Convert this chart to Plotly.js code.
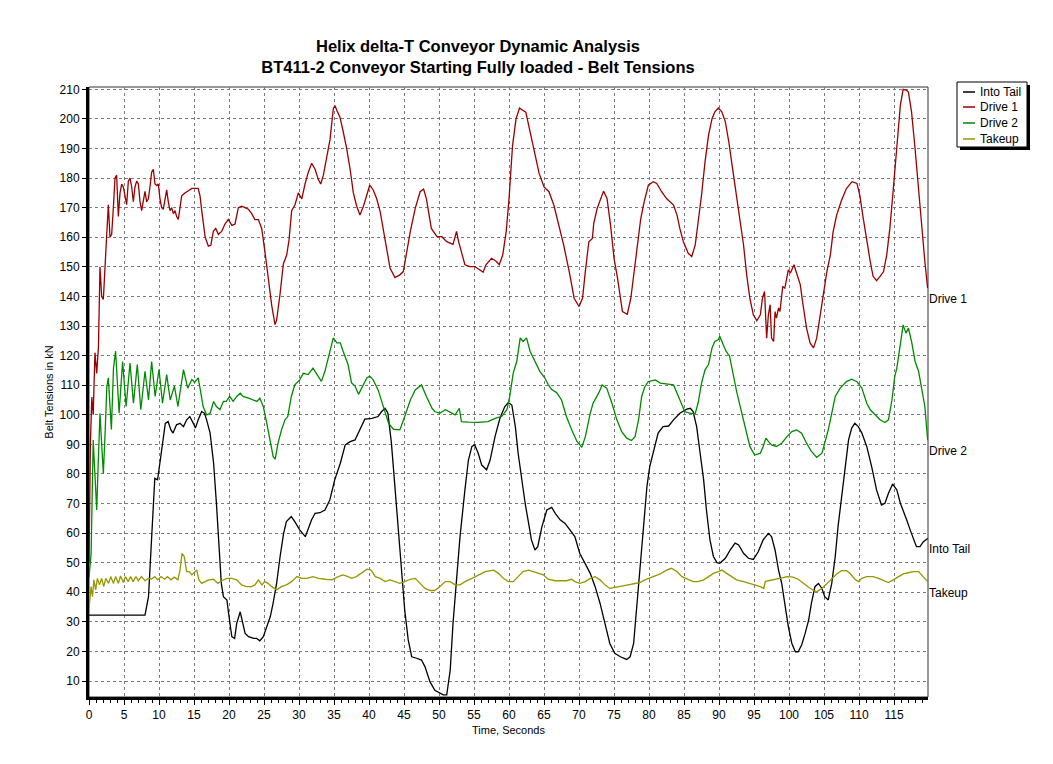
<!DOCTYPE html>
<html>
<head>
<meta charset="utf-8">
<script src="https://cdn.plot.ly/plotly-3.0.1.min.js"></script>
<style>html,body{margin:0;padding:0;background:#fff;}#chart{width:1053px;height:764px;}</style>
</head>
<body>
<div id="chart"></div>
<script>
// ---- Data ----
const seriesNames = ["Into Tail", "Drive 1", "Drive 2", "Takeup"];
const xTickVals = [0,5,10,15,20,25,30,35,40,45,50,55,60,65,70,75,80,85,90,95,100,105,110,115];
const yTickVals = [10,20,30,40,50,60,70,80,90,100,110,120,130,140,150,160,170,180,190,200,210];

const tailT = [0,8.0,8.5,8.7,8.95,9.2,9.4,9.8,10.1,10.5,10.9,11.3,11.7,12.0,12.5,13.0,13.5,13.95,14.4,14.9,15.2,15.6,16.1,16.5,16.8,17.3,17.8,18.2,18.6,18.9,19.2,19.7,20.0,20.4,20.8,21.1,21.6,21.9,22.3,22.8,23.5,23.95,24.4,24.9,25.4,25.9,26.3,26.8,27.3,27.8,28.2,28.9,29.4,30.1,30.9,31.3,31.8,32.3,33.0,33.7,34.4,35.1,35.9,36.6,37.3,38.0,38.7,39.4,40.4,41.3,41.8,42.3,42.7,43.2,43.7,44.2,44.7,45.1,45.6,46.1,46.8,47.5,48.0,48.7,49.4,50.1,50.6,51.1,51.6,52.0,52.5,53.0,53.7,54.2,54.7,55.1,55.6,56.1,56.8,57.3,58.0,58.7,59.4,59.9,60.4,60.9,61.3,61.8,62.3,62.8,63.2,63.7,64.1,64.7,65.4,66.1,66.6,67.3,68.0,68.7,69.4,70.1,70.9,71.6,72.3,73.0,73.7,74.4,75.1,75.9,76.8,77.3,77.8,78.2,78.7,79.2,79.7,80.1,80.6,81.3,82.0,82.8,83.5,84.4,85.4,85.9,86.3,86.8,87.3,87.8,88.2,88.7,89.2,89.7,90.1,90.9,91.6,92.3,92.8,93.5,94.2,94.9,95.6,96.3,97.05,97.5,98.0,98.5,98.95,99.4,99.9,100.4,100.9,101.3,101.8,102.3,102.8,103.2,103.7,104.2,104.7,105.1,105.6,106.1,106.6,107.0,107.5,108.0,108.5,108.95,109.4,109.9,110.4,111.1,111.8,112.5,113.2,113.7,114.2,114.8,115.4,115.9,116.3,116.8,117.3,117.8,118.2,118.7,119.2,119.8];
const tailV = [32.3,32.3,38.5,47.5,61,73.5,78.5,78,83.6,91.5,97.1,97.7,94.9,93.8,96.6,97.1,96,98.3,99.4,97.1,95.5,98.3,101.1,100.5,98.3,93.8,83.6,70.1,56.6,43,38.5,37.4,31.8,25,24.4,29.5,33.4,30.6,26.1,25,24.4,24.4,23.6,25,28.4,31.8,36.3,43,52.1,59.9,63.9,65.6,63.9,61.1,58.8,61.1,64.5,66.7,66.9,67.8,71.2,78,83.6,89.8,90.9,91.5,94.9,98.5,98.8,99.4,101.1,102.2,100.5,90.4,75.7,61.1,47.5,34,23.9,18.2,17.7,17.1,14.8,9.8,6.9,6.1,5.3,5.3,13.7,29.5,45.3,58.8,74.6,84.7,89.3,89.8,87,83,81.4,84.7,92.6,98.8,102.8,104.1,103.3,96,87,78,70.1,63.3,57.7,54.3,55.4,62.2,67.8,68.7,66.7,64.5,63.3,61.1,58.8,53.2,49.8,46.4,41.9,36.3,29.5,22.7,19.4,18.2,17.3,18.2,22.7,34,49.8,64.5,75.7,82.5,87,93.8,96,96.2,98.3,100.5,101.9,102.2,101.1,96,87,78,67.8,57.7,52.1,50,49.8,51.5,54.3,56.6,56,53.2,51.5,51.1,53.7,57.7,59.9,58.8,54.3,47.5,43,36.3,28.4,22.7,19.9,19.9,22.2,26.1,30.6,36.3,41.9,43,41.3,38.5,37.4,43,52.1,62.2,72.3,82.5,91.5,95.5,97.1,96,93.8,89.3,82.5,74.6,69.5,70.1,73.5,76.6,74.6,70.1,67.8,64.5,61.1,57.7,55.4,55.4,57.1,58.2];

const drive1T = [0,0.2,0.4,0.6,0.85,1.1,1.35,1.57,1.81,2.05,2.29,2.52,2.76,3.0,3.24,3.48,3.71,3.95,4.19,4.43,4.67,4.9,5.14,5.38,5.62,5.86,6.1,6.33,6.57,6.81,7.05,7.29,7.52,7.76,8.0,8.24,8.48,8.71,8.95,9.19,9.43,9.67,9.9,10.14,10.38,10.62,10.86,11.1,11.33,11.57,11.81,12.05,12.29,12.52,12.76,13.0,13.24,13.7,14.7,15.6,15.86,16.1,16.6,17.05,17.4,17.76,18.1,18.48,18.95,19.43,19.9,20.4,20.86,21.33,21.81,22.3,22.76,23.24,23.7,24.2,24.67,25.14,25.62,26.1,26.57,26.8,27.3,27.76,28.24,28.57,28.95,29.43,29.9,30.4,30.86,31.33,31.81,32.3,32.76,33.1,33.48,33.95,34.43,34.9,35.14,35.38,35.86,36.33,36.81,37.3,37.76,38.24,38.7,39.2,39.67,40.1,40.6,41.1,41.6,42.1,42.6,43.0,43.7,44.4,44.9,45.4,45.9,46.6,47.3,47.8,48.2,48.9,49.7,50.4,51.1,52.0,52.5,52.8,53.2,53.7,54.4,55.1,55.8,56.3,56.7,57.5,58.2,58.6,59.1,59.6,60.0,60.5,61.0,61.5,61.9,62.4,62.8,63.3,63.8,64.3,65.0,65.7,66.4,67.1,67.8,68.6,69.3,70.0,70.5,70.9,71.4,71.9,72.1,72.6,73.1,73.5,74.0,74.5,75.0,75.5,76.2,76.9,77.4,77.8,78.3,78.8,79.3,79.9,80.6,81.1,81.8,82.5,83.5,84.0,84.4,84.9,85.6,86.1,86.6,87.0,87.5,88.0,88.5,89.0,89.4,89.9,90.4,90.9,91.4,92.0,92.8,93.5,93.95,94.4,94.9,95.4,95.9,96.2,96.5,96.8,97.05,97.3,97.5,97.8,98.0,98.2,98.5,98.7,99.1,99.4,99.9,100.2,100.7,101.1,101.6,102.0,102.5,103.0,103.5,103.95,104.4,104.9,105.4,105.9,106.3,106.8,107.5,108.2,109.0,109.7,110.1,110.6,111.1,111.6,112.0,112.5,113.0,113.5,113.95,114.4,114.9,115.4,115.9,116.3,116.8,117.05,117.5,118.0,118.5,118.95,119.4,119.8];
const drive1V = [50,90,106,100,121,114,123,150,140,139,150,161,171,160,161,170,180,181,167,175,178,177,174,171,179,180,177,172,177,179,178,172,169,173,175.5,172,173,177,182,183,178,177.5,178,173,170,169.5,173,176,172,169,170,168,169,167,166,171,174,175,176.5,176.5,174,169,160,157,157.3,162,163,161,162,164.5,166,164,164.5,170,170.5,170,169.5,168,166,166,163,155,146,137,130.5,132,141,151,154,159,169,171,175,173,178,182,185,183,179.5,178,181,186.5,193,203.5,204.5,203,200.5,195.5,190,183,175,170.5,167.5,170.5,174,177.6,176,173,168.6,162,154,149.6,146.4,147.3,148.4,155,162,169.8,175.4,176.3,173,163,160.2,160.2,158.5,157.6,162,158.5,154.6,150.7,150.1,150.1,149,148.2,150.7,152.9,151.8,150.7,154,162,173,191,200,203.7,203,202.3,197.9,192.2,186.6,181.6,177,175.4,170.9,164.2,157.4,148.4,139.4,136.6,139.4,148.4,158.5,159.6,164.7,169.8,173.1,175.6,173.1,164.2,152.9,146.2,134.9,134,139.4,147.3,157.4,166,172,177.6,178.8,178.2,175.4,173.1,170.9,167.5,163,158.5,154.6,153.5,157.4,164.2,174.3,185.5,194.5,200.1,202.4,203.7,202.4,199,192.2,182.1,169.8,157.4,147.3,139.4,133.8,131.8,133.8,139.4,141.7,125.9,133.8,137.2,125.9,124.8,134.9,132.7,136.1,134.9,143.4,142.8,149,147.9,150.7,147.9,144,137.2,129.3,124.3,122.6,125.9,132.7,140.5,148.4,154,161.9,167.5,172.5,176.5,178.8,178.2,174.3,166.4,158.5,151.8,146.8,145.3,146.8,148.4,154,163,176.5,191.1,204.6,210,209.7,209.1,202.4,190,175.4,164.2,151.8,142.8];

const drive2T = [0,0.3,0.6,0.86,1.1,1.3,1.57,1.8,2.05,2.3,2.55,2.76,3.0,3.2,3.5,3.8,4.3,4.8,5.3,5.86,6.35,6.9,7.4,8.0,8.5,8.95,9.45,10.0,10.5,11.1,11.6,12.2,12.7,13.5,14.1,14.7,15.1,15.6,15.9,16.3,16.8,17.3,17.8,18.2,18.7,19.2,19.6,20.1,20.6,21.1,21.6,22.0,22.8,23.5,24.0,24.4,24.9,25.4,25.9,26.3,26.6,27.0,27.5,28.0,28.4,28.9,29.4,30.1,30.6,31.3,32.0,32.8,33.2,33.7,34.2,34.9,35.4,35.9,36.3,37.0,37.5,38.0,38.5,38.95,39.7,40.1,40.6,41.3,42.0,42.8,43.5,44.4,45.1,45.9,46.6,47.5,48.2,49.0,49.4,50.1,50.9,51.6,52.3,52.9,53.2,54.2,55.6,57.0,58.0,58.95,59.7,60.1,60.6,61.1,61.6,62.0,62.5,63.0,63.5,63.9,64.4,65.1,65.6,66.1,66.8,67.5,68.2,68.95,69.7,70.4,70.9,71.6,72.0,72.8,73.3,73.95,74.7,75.4,76.1,76.8,77.5,78.0,78.5,78.95,79.4,79.9,80.9,81.6,82.5,83.5,84.0,84.4,85.1,85.9,86.6,87.0,87.5,88.0,88.5,89.0,89.4,89.9,90.1,90.5,91.0,91.5,92.0,92.5,93.0,93.7,94.4,95.1,95.9,96.3,96.7,97.05,97.5,98.2,98.95,99.7,100.4,101.1,101.8,102.5,103.2,103.95,104.7,105.1,105.6,106.1,106.6,107.3,108.2,108.95,109.7,110.4,111.1,111.6,112.3,113.0,113.7,114.2,114.7,115.1,115.4,115.9,116.3,116.7,117.05,117.5,118.0,118.5,118.95,119.4,119.8];
const drive2V = [45,53,91.5,79,67.8,82.5,100.5,90.4,80.2,93.8,109.5,112.5,103.5,95,115.8,121.5,100.5,118,102.8,117.5,103.9,117,101.7,114.7,105,118,106.2,115.3,103.9,113.6,105,109.7,102.8,115.3,109,111.9,111,112.5,108.4,102.8,100,100.5,104.5,102.8,101.7,104.5,104.5,106.2,104.5,106.2,107.3,106.2,105.6,105,104.5,105.6,102.8,97.1,91.5,85.9,85,90.4,94.9,98.3,99.4,106.2,110.1,111.8,114,113.6,115.8,112.5,111.3,114.7,119.2,126,124.3,124.3,121.5,117,110.8,109.7,106.9,109.1,112.5,113,111.8,108.4,102.8,97.1,95.1,94.9,99.4,105,108.4,110.1,106.2,102.2,101.1,100.5,101.7,100.8,100,102.2,97.7,97.5,97.4,97.7,98.8,99.4,101.7,106.2,114.1,118,126,124.8,126,121.5,119.2,117,114.7,112.5,110.2,108.5,107.5,105,99.4,94.9,91,89,92.6,100.5,103.9,107.3,110.1,109,103.9,98.3,94.3,92.1,91.3,92.6,98.3,106.2,109.5,111.2,111.8,110.7,110.5,110.1,107.3,105,101.1,100.5,100.5,103.9,110.7,115.2,117,122.6,124.8,125.4,126.5,124.3,121.5,119.8,113.6,108,103,96,89.3,86.4,87,89.3,92.1,91,89.8,89.3,90.4,92.6,94.3,94.9,93.8,90.4,87.6,85.6,87,90.4,94.9,100.5,106.2,109,111.2,112,111.2,109,103.9,101.7,100,98.3,97.4,98.3,105,113,115.8,124.8,130.4,127.6,129.3,124.8,118.1,114.7,109,102.8,91.5];

const takeupT = [0,0.3,0.5,0.7,0.95,1.2,1.5,1.8,2.1,2.4,2.8,3.1,3.5,3.8,4.2,4.5,4.9,5.2,5.6,5.95,6.3,6.7,7.05,7.5,8.0,8.5,8.95,9.4,9.8,10.3,10.8,11.2,11.7,12.2,12.7,13.0,13.3,13.6,13.95,14.3,14.7,15.1,15.4,15.7,16.1,16.6,17.1,17.8,18.4,18.95,19.7,20.4,21.1,21.8,22.5,23.2,23.7,24.2,24.7,25.1,25.6,26.1,26.8,27.5,28.2,28.95,29.7,30.4,31.1,32.0,32.8,33.7,34.7,35.6,36.3,37.0,37.5,38.2,38.95,39.7,40.3,40.9,41.6,42.3,43.0,43.7,44.4,45.1,45.9,46.6,47.3,48.0,48.7,49.4,50.1,50.9,51.6,52.3,53.0,53.7,54.7,55.6,56.6,57.8,58.5,59.2,59.9,60.6,61.3,62.0,62.8,63.5,64.2,64.9,65.6,66.6,67.5,68.2,68.95,69.4,70.1,70.9,71.6,72.3,73.0,73.7,74.4,75.1,76.1,77.0,78.0,78.7,79.4,80.1,80.6,81.6,82.5,83.2,84.0,84.7,85.6,86.3,87.0,87.8,88.5,89.2,89.9,90.4,91.1,91.8,92.5,93.5,94.4,95.1,95.9,96.4,96.6,97.05,97.8,98.7,99.7,100.6,101.3,102.0,102.8,103.5,103.95,104.7,105.4,106.1,106.8,107.5,108.2,108.7,109.4,109.9,110.4,111.1,112.0,112.8,113.5,114.2,114.9,115.6,116.3,117.05,117.8,118.5,119.2,119.8];
const takeupV = [34.5,41.9,38.5,44.2,40.8,44.7,42.5,44.7,41.9,44.7,43,45.3,43,45.3,43,45.5,43.3,45.3,43.6,45.3,43.6,45.3,43.9,45.3,43.9,44.7,44.5,45.3,44.2,45.3,44.4,45.3,44.2,45.1,44.2,47.5,53.2,52.1,47,47,45.9,47,47.5,44.2,43,43.6,44.2,44.4,43,43.9,44.7,44.7,44.2,42.5,41.9,41.9,42.5,44.2,42.5,43.6,43,41.9,40.8,41.9,42.5,43.6,45.3,44.7,44.7,45.3,44.7,44.4,44.2,45.3,45.9,45.3,44.7,45.3,46.4,47.8,47.5,45.3,44.7,43.6,44.2,43.6,43,43.6,44.4,44.7,43,41.3,40.6,40.6,41.9,43.6,43.6,42.5,42.5,43.6,44.7,45.9,47,47.5,46.4,44.7,43.6,43.6,45.3,47,47.5,47,46.6,45.9,44.4,43.9,43.9,43.9,44.4,43.6,43,43.6,44.7,45.3,44.2,42.5,41.3,41.7,42.1,42.5,43,43.3,44.2,44.7,45.3,46.2,47.5,48.1,47,45.3,44.4,43.6,43.6,44.2,45.3,46.4,47,47.5,46.4,45.3,44.2,43.6,43,42.5,41.9,41.3,43.6,43.9,44.2,44.7,45.3,45.1,44.4,43,41.7,40.6,40.2,41.3,43,44.7,46.2,47.3,47.3,46.4,44.4,43.6,44.7,45.3,45.3,44.7,43.9,43.3,44.2,45.3,46.2,46.6,47,47,45.3,43.6];

// ---- Styling ----
const colors = ["#000000", "#990000", "#008a00", "#969600"];
const FONT = "Liberation Sans, Arial, Helvetica, sans-serif";

const W = 1053, H = 764, ML = 89, MR = 125, MT = 87, MB = 67;
const PW = W - ML - MR, PH = H - MT - MB;
const px = x => (x - ML) / PW;          // pixel x -> paper x
const py = y => (H - MB - y) / PH;      // pixel y -> paper y

const xs = [tailT, drive1T, drive2T, takeupT];
const ys = [tailV, drive1V, drive2V, takeupV];

const traces = seriesNames.map((n, i) => ({
  type: "scatter", mode: "lines", name: n,
  x: xs[i], y: ys[i],
  line: {color: colors[i], width: 1.3},
  showlegend: false, hoverinfo: "skip"
}));

const shapes = [
  {type: "rect", xref: "paper", yref: "paper", x0: 0, x1: 1, y0: 0, y1: 1,
   line: {color: "#303030", width: 1}, layer: "below"},
  {type: "rect", xref: "paper", yref: "paper", x0: px(960), x1: px(1030), y0: py(150), y1: py(85),
   fillcolor: "#000", line: {width: 0}},
  {type: "rect", xref: "paper", yref: "paper", x0: px(957), x1: px(1027), y0: py(147), y1: py(82),
   fillcolor: "#fff", line: {color: "#000", width: 1}}
];
const annotations = [];
const rowY = [92, 107, 123, 139];
seriesNames.forEach((n, i) => {
  shapes.push({type: "line", xref: "paper", yref: "paper", x0: px(963), x1: px(975),
    y0: py(rowY[i]), y1: py(rowY[i]), line: {color: colors[i], width: 1.5}});
  annotations.push({xref: "paper", yref: "paper", x: px(978), y: py(rowY[i]),
    xanchor: "left", yanchor: "middle", showarrow: false, text: n,
    font: {family: FONT, size: 12, color: "#000"}});
  const yv = ys[i][ys[i].length - 1];
  annotations.push({xref: "paper", yref: "y", x: 1, y: yv, xanchor: "left", yanchor: "top",
    xshift: -1, yshift: -2, showarrow: false, text: n,
    font: {family: FONT, size: 12, color: "#000"}});
});

const layout = {
  width: W, height: H,
  margin: {l: ML, r: MR, t: MT, b: MB, autoexpand: false},
  paper_bgcolor: "#fff", plot_bgcolor: "#fff",
  font: {family: FONT, size: 11, color: "#000"},
  title: {
    text: "<b>Helix delta-T Conveyor Dynamic Analysis</b><br><b>BT411-2 Conveyor Starting Fully loaded - Belt Tensions</b>",
    font: {family: FONT, size: 16.5, color: "#000"},
    x: 478 / W, xanchor: "center", xref: "container",
    y: 1 - 52 / H, yanchor: "top", yref: "container"
  },
  xaxis: {
    range: [0, 119.85], tickmode: "array", tickvals: xTickVals,
    showgrid: true, gridcolor: "#7a7a7a", gridwidth: 1, griddash: "3px,3px",
    zeroline: false, showline: true, linecolor: "#000", linewidth: 3,
    ticks: "outside", ticklen: 5, tickcolor: "#000", tickwidth: 1,
    minor: {dtick: 1, tick0: 0, ticks: "outside", ticklen: 3, tickcolor: "#000", showgrid: false},
    tickfont: {family: FONT, size: 12, color: "#000"},
    title: {text: "Time, Seconds", font: {family: FONT, size: 11, color: "#000"}, standoff: 5}
  },
  yaxis: {
    range: [4.6, 210.8], tickmode: "array", tickvals: yTickVals,
    showgrid: true, gridcolor: "#7a7a7a", gridwidth: 1, griddash: "3px,3px",
    zeroline: false, showline: true, linecolor: "#000", linewidth: 3,
    ticks: "outside", ticklen: 4, tickcolor: "#000", tickwidth: 1,
    tickfont: {family: FONT, size: 12, color: "#000"},
    title: {text: "Belt Tensions in kN", font: {family: FONT, size: 11, color: "#000"}, standoff: 4}
  },
  shapes: shapes,
  annotations: annotations,
  showlegend: false
};

Plotly.newPlot("chart", traces, layout, {staticPlot: true, displayModeBar: false});
</script>
</body>
</html>
